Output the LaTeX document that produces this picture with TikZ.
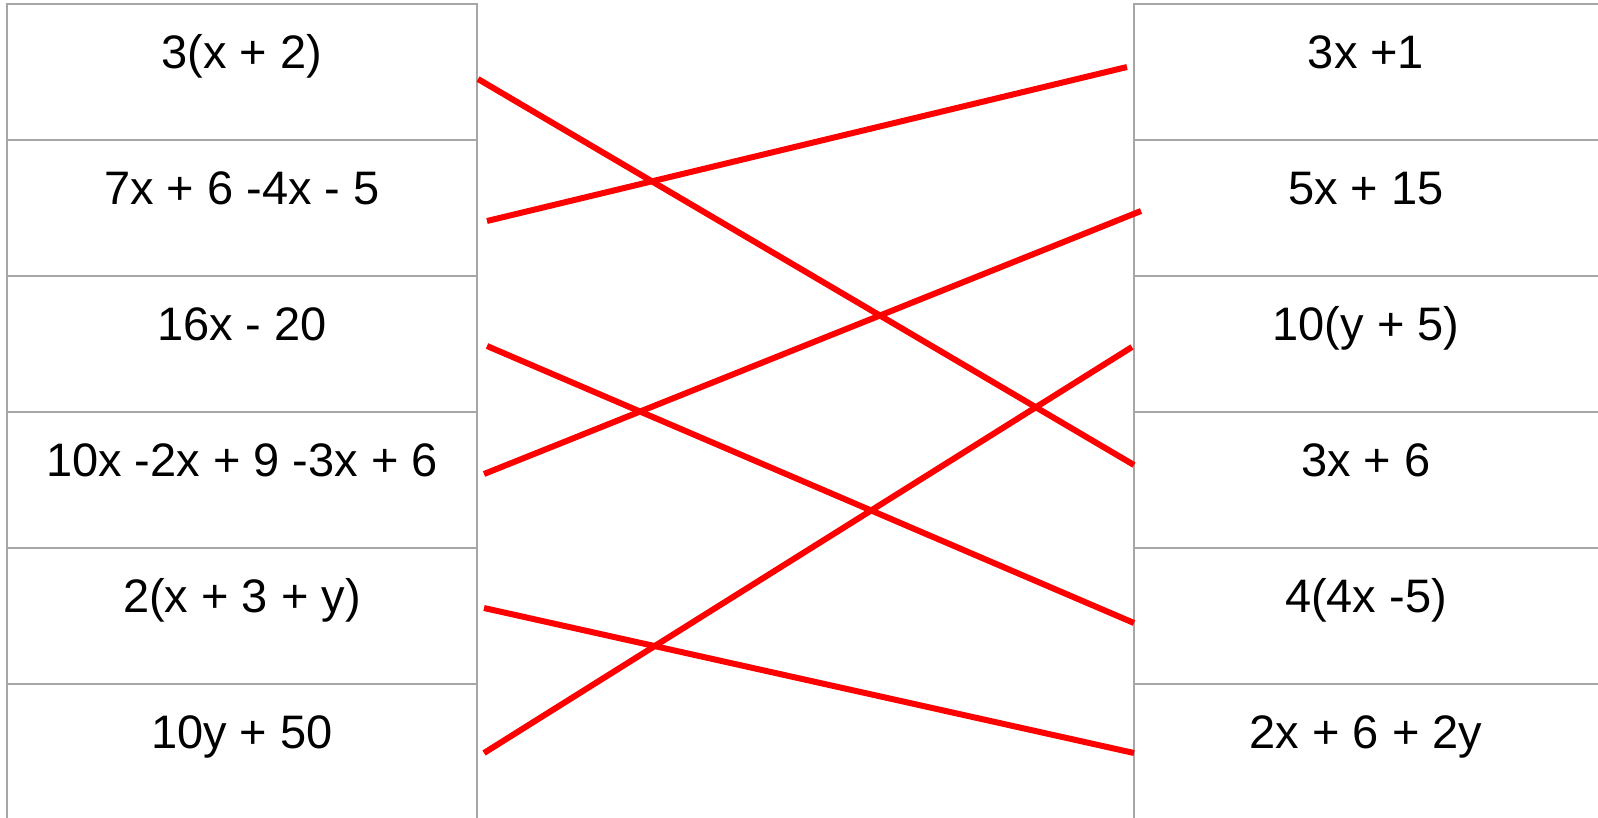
\documentclass[tikz,border=0pt]{standalone}
\usepackage{fontspec}
\setmainfont{Liberation Sans}
\definecolor{cellgray}{HTML}{A6A6A6}
\definecolor{linkred}{HTML}{FF0000}
\begin{document}
\begin{tikzpicture}[x=1pt,y=-1pt,
  cell/.style={draw=cellgray, line width=2pt, minimum width=470pt, minimum height=136pt, anchor=north west, inner sep=0pt, outer sep=0pt},
  lbl/.style={anchor=base, inner sep=0pt, font=\fontsize{47}{56}\selectfont},
  link/.style={draw=linkred, line width=6pt}]
\useasboundingbox (0,0) rectangle (1598,817);
% left column
\foreach \i/\t in {1/4,2/140,3/276,4/412,5/548,6/684}{
  \node[cell] (L\i) at (7,\t) {};
  \node[cell, minimum width=480pt] (R\i) at (1134,\t) {};
}
\node[lbl] (tL1) at (242,68) {3(x + 2)};
\node[lbl] (tL2) at (242,204) {7x + 6 -4x - 5};
\node[lbl] (tL3) at (242,340) {16x - 20};
\node[lbl] (tL4) at (242,476) {10x -2x + 9 -3x + 6};
\node[lbl] (tL5) at (242,612) {2(x + 3 + y)};
\node[lbl] (tL6) at (242,748) {10y + 50};
\node[lbl] (tR1) at (1366,68) {3x +1};
\node[lbl] (tR2) at (1366,204) {5x + 15};
\node[lbl] (tR3) at (1366,340) {10(y + 5)};
\node[lbl] (tR4) at (1366,476) {3x + 6};
\node[lbl] (tR5) at (1366,612) {4(4x -5)};
\node[lbl] (tR6) at (1366,748) {2x + 6 + 2y};
% connector end points
\coordinate (a1) at (478,79);  \coordinate (b4) at (1134,465);
\coordinate (a2) at (487,221); \coordinate (b1) at (1127,67);
\coordinate (a3) at (487,346); \coordinate (b5) at (1134,623);
\coordinate (a4) at (484,474); \coordinate (b2) at (1141,211);
\coordinate (a5) at (484,608); \coordinate (b6) at (1134,753);
\coordinate (a6) at (484,753); \coordinate (b3) at (1132,347);
\draw[link] (a1) -- (b4);
\draw[link] (a2) -- (b1);
\draw[link] (a3) -- (b5);
\draw[link] (a4) -- (b2);
\draw[link] (a5) -- (b6);
\draw[link] (a6) -- (b3);
\end{tikzpicture}
\end{document}
